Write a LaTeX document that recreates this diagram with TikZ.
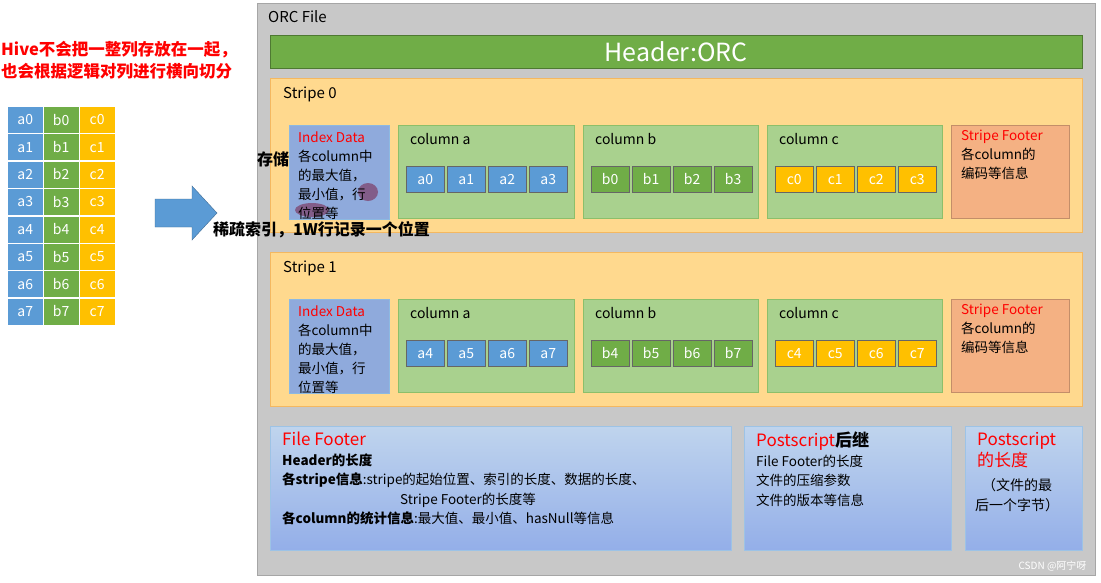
\documentclass[tikz,border=0pt]{standalone}
\usepackage{fontspec}
\setmainfont{Noto Sans CJK SC}
\definecolor{gbg}{HTML}{C8C8C8}
\definecolor{hdr}{HTML}{70AD47}
\definecolor{stripe}{HTML}{FFD98E}
\definecolor{stripeb}{HTML}{F4B860}
\definecolor{idx}{HTML}{8FAADC}
\definecolor{col}{HTML}{A9D18E}
\definecolor{colb}{HTML}{8CBF6A}
\definecolor{ca}{HTML}{5B9BD5}
\definecolor{cb}{HTML}{70AD47}
\definecolor{cc}{HTML}{FFC000}
\definecolor{sf}{HTML}{F4B183}
\definecolor{ff}{HTML}{A4C2E6}
\definecolor{red1}{HTML}{FF0000}
\tikzset{
 box/.style={draw,anchor=north west,inner sep=0pt},
 cell/.style={box,minimum width=38pt,minimum height=26pt,draw=black!60,text=white,font=\fontsize{14}{15}\selectfont},
 tcell/.style={draw=white,minimum width=36pt,minimum height=27pt,inner sep=0pt,text=white,font=\fontsize{14}{15}\selectfont},
 lbl/.style={anchor=north west,inner sep=0pt,align=left},
}
\begin{document}
\begin{tikzpicture}[x=1pt,y=-1pt]
\useasboundingbox (0,0) rectangle (1101,582);
\fill[white] (0,0) rectangle (1101,582);
% outer
\node[box,draw=gray!70,fill=gbg,minimum width=838pt,minimum height=572pt] (orc) at (257,3) {};
\node[lbl,font=\fontsize{15}{17}\selectfont] (orct) at (268,10) {ORC File};
\node[box,draw=hdr!70!black,fill=hdr,minimum width=812pt,minimum height=33pt,text=white,font=\fontsize{25}{27}\selectfont] (hdr) at (270,35) {Header:ORC};
% stripes
\foreach \s/\y/\o in {0/78/0,1/252/4}{
 \node[box,draw=stripeb,fill=stripe,minimum width=812pt,minimum height=154pt] (st\s) at (270,\y) {};
 \node[lbl,font=\fontsize{15}{17}\selectfont] at (283,\y+9) {Stripe \s};
 \node[box,draw=ca!70,fill=idx,minimum width=100pt,minimum height=94pt] (idx\s) at (289,\y+47) {};
 \node[box,draw=colb,fill=col,minimum width=176pt,minimum height=93pt] (cola\s) at (398,\y+47) {};
 \node[box,draw=colb,fill=col,minimum width=175pt,minimum height=93pt] (colb\s) at (583,\y+47) {};
 \node[box,draw=colb,fill=col,minimum width=175pt,minimum height=93pt] (colc\s) at (767,\y+47) {};
 \node[box,draw=sf!80!black,fill=sf,minimum width=118pt,minimum height=93pt] (sf\s) at (951,\y+47) {};
 \node[lbl,font=\fontsize{14}{16}\selectfont] at (410,\y+55) {column a};
 \node[lbl,font=\fontsize{14}{16}\selectfont] at (595,\y+55) {column b};
 \node[lbl,font=\fontsize{14}{16}\selectfont] at (779,\y+55) {column c};
 \foreach \i in {0,1,2,3}{
  \pgfmathtruncatemacro\n{\i+\o}
  \node[cell,fill=ca] (a\s\i) at (406+41*\i,\y+88) {a\n};
  \node[cell,fill=cb] (b\s\i) at (591+41*\i,\y+88) {b\n};
  \node[cell,fill=cc] (c\s\i) at (775+41*\i,\y+88) {c\n};
 }
 \node[lbl,font=\fontsize{13.5}{19}\selectfont] at (961,\y+52) {\textcolor{red1}{Stripe Footer}\\各column的\\编码等信息};
}
\fill[purple!60!black,opacity=0.45] (368,192) ellipse (10pt and 9pt);
\fill[purple!60!black,opacity=0.45] (312,210) ellipse (17pt and 7pt);
\node[lbl,font=\fontsize{13.5}{19}\selectfont] (it0) at (298,132) {\textcolor{red1}{Index Data}\\各column中\\的最大值，\\最小值，行\\位置等};
\node[lbl,font=\fontsize{13.5}{19}\selectfont] (it1) at (298,306) {\textcolor{red1}{Index Data}\\各column中\\的最大值，\\最小值，行\\位置等};
\node[lbl,font=\bfseries\fontsize{16}{18}\selectfont] (cc1) at (257,152) {存储};
\node[lbl,font=\bfseries\fontsize{16}{18}\selectfont] (cc2) at (213,221) {稀疏索引，1W行记录一个位置};
% bottom
\node[box,draw=ca!60,top color=ff!70!white,bottom color=ff!90!blue,minimum width=461pt,minimum height=124pt] (ff) at (270,426) {};
\node[box,draw=ca!60,top color=ff!70!white,bottom color=ff!90!blue,minimum width=207pt,minimum height=124pt] (ps) at (744,426) {};
\node[box,draw=ca!60,top color=ff!70!white,bottom color=ff!90!blue,minimum width=117pt,minimum height=124pt] (pl) at (965,426) {};
\node[lbl,font=\fontsize{13.5}{19.5}\selectfont] at (282,432) {\textcolor{red1}{\fontsize{17}{19}\selectfont File Footer}\\\textbf{Header的长度}\\\textbf{各stripe信息}:stripe的起始位置、索引的长度、数据的长度、\\\hspace*{118pt}Stripe Footer的长度等\\\textbf{各column的统计信息}:最大值、最小值、hasNull等信息};
\node[lbl,font=\fontsize{13.5}{19.5}\selectfont] at (756,432) {{\fontsize{17}{19}\selectfont\textcolor{red1}{Postscript}\textbf{后继}}\\File Footer的长度\\文件的压缩参数\\文件的版本等信息};
\node[lbl,font=\fontsize{17}{21}\selectfont,text=red1] at (977,432) {Postscript\\的长度};
\node[lbl,font=\fontsize{14}{20}\selectfont,align=center] at (975,478) {（文件的最\\后一个字节）};
\node[anchor=south east,text=white,font=\fontsize{10}{11}\selectfont] (wm) at (1090,575) {CSDN @阿宁呀};
% left table
\foreach \r in {0,...,7}{
 \node[tcell,fill=ca,anchor=north west] (la\r) at (7,106+27.4*\r) {a\r};
 \node[tcell,fill=cb,anchor=north west] (lb\r) at (43,106+27.4*\r) {b\r};
 \node[tcell,fill=cc,anchor=north west] (lc\r) at (79,106+27.4*\r) {c\r};
}
\node[lbl,font=\bfseries\fontsize{16.5}{22}\selectfont,text=red1] (title) at (1,41) {Hive不会把一整列存放在一起，\\也会根据逻辑对列进行横向切分};
\draw[ca!70!black,fill=ca] (155,199) -- (192,199) -- (192,186) -- (217,213) -- (192,240) -- (192,227) -- (155,227) -- cycle;
\end{tikzpicture}
\end{document}
